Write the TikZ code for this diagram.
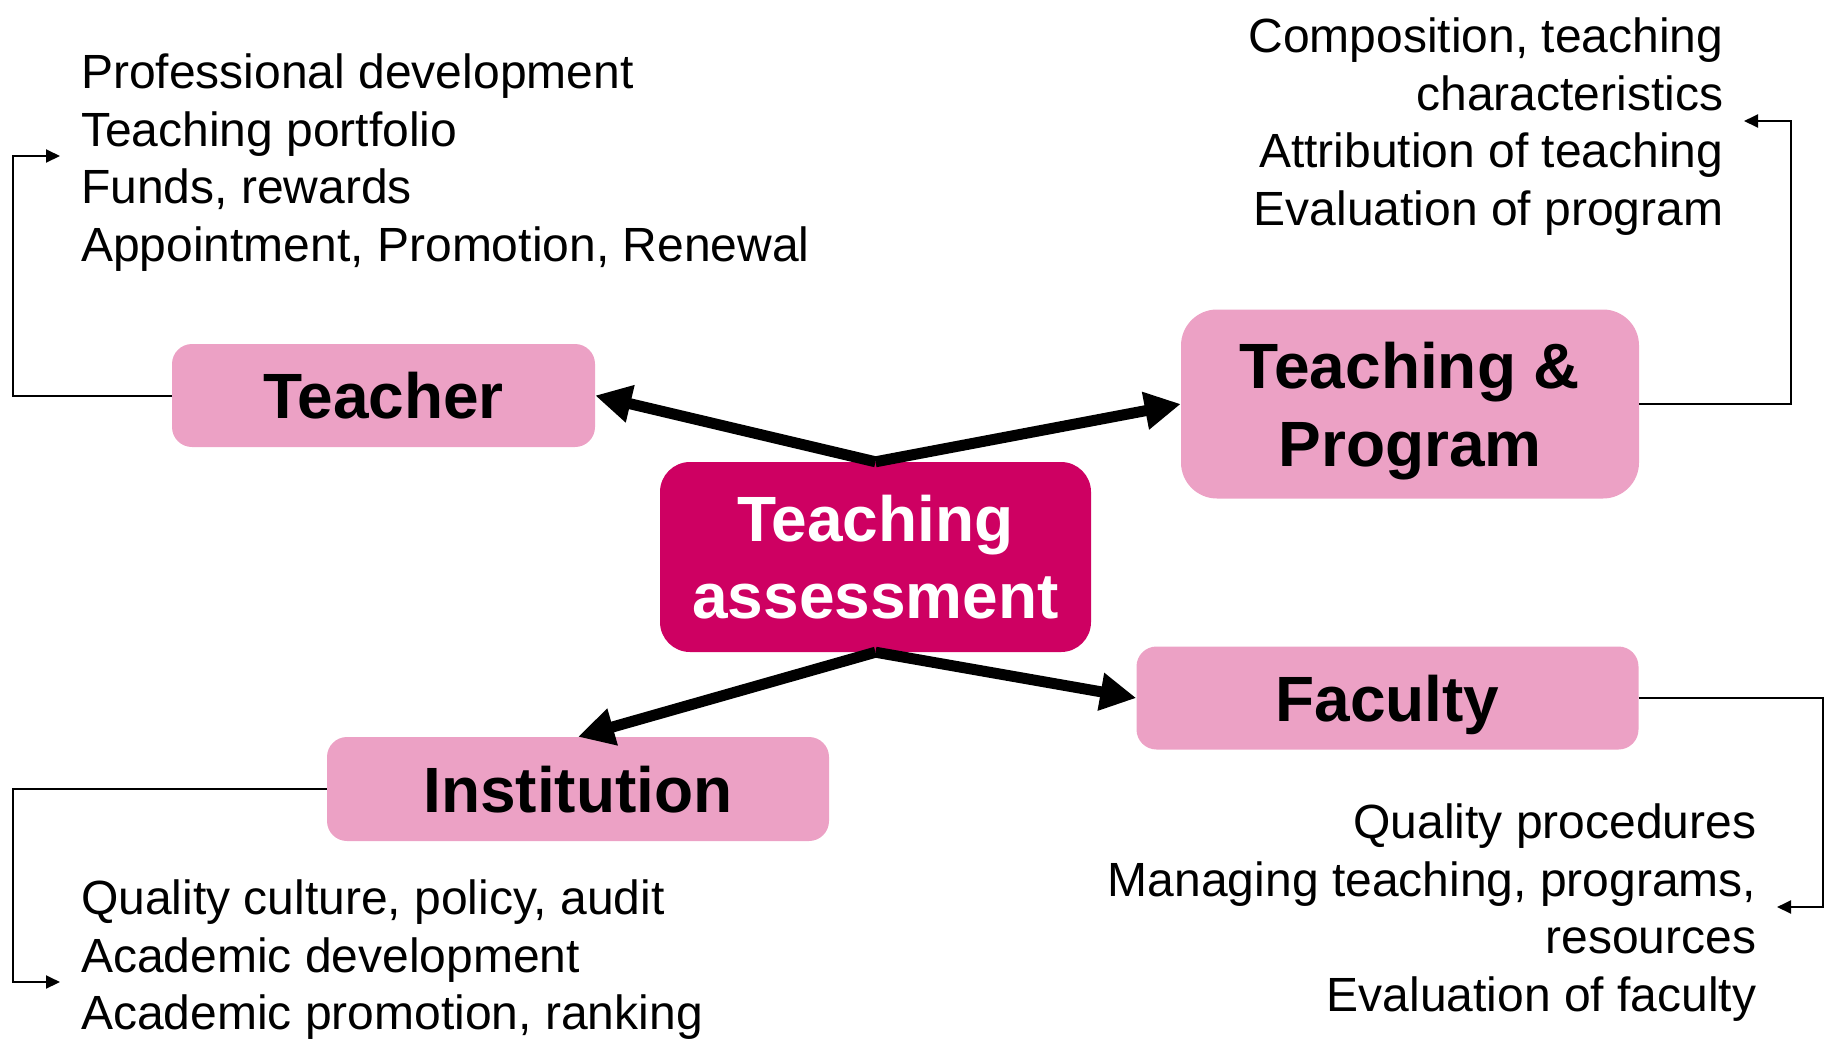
\documentclass[tikz,border=0pt]{standalone}
\usepackage{fontspec}
\setmainfont{Liberation Sans}
\usepackage{tikz}
\usetikzlibrary{arrows.meta}
\definecolor{hubcol}{RGB}{206,0,98}
\definecolor{boxcol}{RGB}{236,161,197}
\tikzset{
	hub/.style={rectangle,rounded corners=30pt,fill=hubcol,text=white,align=center,text depth=-5pt,font=\bfseries\fontsize{64}{77}\selectfont},
	box/.style={rectangle,rounded corners=20pt,fill=boxcol,align=center,text depth=-7pt,font=\bfseries\fontsize{64}{78}\selectfont},
	list/.style={inner sep=0pt,font=\fontsize{48}{57.5}\selectfont},
	link/.style={line width=11pt,-{Triangle[length=36pt,width=36pt]}},
	feed/.style={line width=2pt,-{Triangle[length=14pt,width=13pt]}}
}

\begin{document}
\begin{tikzpicture}[x=1pt,y=-1pt]
			\useasboundingbox (0,0) rectangle (1825,1045);
			\node[hub,minimum width=431pt,minimum height=190pt] (assess) at (875.5,557) {Teaching\\assessment};
			\node[box,minimum width=423pt,minimum height=103pt] (teacher) at (383.5,395.5) {Teacher};
			\node[box,rounded corners=36pt,minimum width=458pt,minimum height=189pt] (prog) at (1410,404) {Teaching \&\\Program};
			\node[box,minimum width=502pt,minimum height=103pt] (faculty) at (1387.5,698) {Faculty};
			\node[box,minimum width=502pt,minimum height=104pt] (inst) at (578,789) {Institution};
			
			\node[list,anchor=north west,align=left] (teacherlist) at (81,54) {Professional development\\Teaching portfolio\\Funds, rewards\\Appointment, Promotion, Renewal};
			\node[list,anchor=north east,align=right] (proglist) at (1723.5,18) {Composition, teaching\\characteristics\\Attribution of teaching\\Evaluation of program};
			\node[list,anchor=north east,align=right] (facultylist) at (1756.5,804) {Quality procedures\\Managing teaching, programs,\\resources\\Evaluation of faculty};
			\node[list,anchor=north west,align=left] (instlist) at (81,880) {Quality culture, policy, audit\\Academic development\\Academic promotion, ranking};
			
			\draw[link] (assess.north) -- (teacher.east);
			\draw[link] (assess.north) -- (prog.west);
			\draw[link] (assess.south) -- (inst.north);
			\draw[link] (assess.south) -- (faculty.west);
			
			\coordinate (teachercorner) at (13,156);
			\coordinate (teacherin) at (60,156);
			\coordinate (progcorner) at (1791,121);
			\coordinate (progin) at (1744,121);
			\coordinate (facultycorner) at (1823,907);
			\coordinate (facultyin) at (1777,907);
			\coordinate (instcorner) at (13,982);
			\coordinate (instin) at (60,982);
			
			\draw[feed] (teacher.west) -| (teachercorner) -- (teacherin);
			\draw[feed] (prog.east) -| (progcorner) -- (progin);
			\draw[feed] (faculty.east) -| (facultycorner) -- (facultyin);
			\draw[feed] (inst.west) -| (instcorner) -- (instin);
		\end{tikzpicture}
\end{document}
